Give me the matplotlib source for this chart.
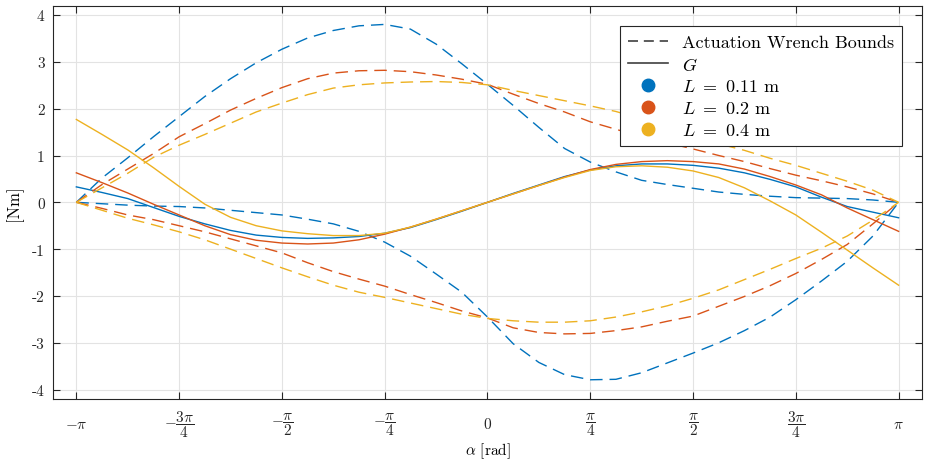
import numpy as np
import matplotlib
matplotlib.use("Agg")
import matplotlib.pyplot as plt
from matplotlib.lines import Line2D

plt.rcParams['font.family'] = 'serif'
plt.rcParams['font.serif'] = ['cmr10']
plt.rcParams['mathtext.fontset'] = 'cm'
plt.rcParams['axes.unicode_minus'] = False
plt.rcParams['axes.formatter.use_mathtext'] = False

# alpha sampled every pi/16 from -pi to pi
alpha = np.linspace(-np.pi, np.pi, 33)

# L = 0.11 m
blue_up = [0.00, 0.52, 0.95, 1.40, 1.83, 2.26, 2.64, 2.98, 3.27, 3.51, 3.67, 3.77, 3.80, 3.70, 3.38, 2.96, 2.52,
           2.07, 1.60, 1.15, 0.86, 0.65, 0.47, 0.38, 0.30, 0.22, 0.17, 0.13, 0.10, 0.09, 0.08, 0.05, 0.00]
blue_lo = [0.00, -0.03, -0.06, -0.08, -0.09, -0.12, -0.17, -0.22, -0.27, -0.36, -0.46, -0.62, -0.85, -1.15, -1.53,
           -1.92, -2.45, -3.02, -3.42, -3.68, -3.79, -3.78, -3.64, -3.43, -3.22, -3.00, -2.74, -2.45, -2.08, -1.68,
           -1.26, -0.72, 0.00]
g_blue = [0.33, 0.21, 0.08, -0.11, -0.30, -0.46, -0.60, -0.70, -0.75, -0.77, -0.76, -0.73, -0.66, -0.54, -0.37,
          -0.19, 0.00, 0.19, 0.37, 0.55, 0.69, 0.78, 0.82, 0.82, 0.79, 0.73, 0.63, 0.49, 0.33, 0.11, -0.09, -0.21, -0.33]

# L = 0.2 m
red_up = [0.00, 0.38, 0.71, 1.04, 1.40, 1.68, 1.97, 2.22, 2.45, 2.64, 2.76, 2.81, 2.82, 2.79, 2.72, 2.63, 2.52,
          2.31, 2.11, 1.93, 1.72, 1.56, 1.40, 1.27, 1.14, 1.00, 0.87, 0.72, 0.58, 0.46, 0.33, 0.18, 0.00]
red_lo = [0.00, -0.13, -0.27, -0.37, -0.50, -0.63, -0.78, -0.93, -1.08, -1.29, -1.48, -1.64, -1.79, -1.97, -2.14,
          -2.32, -2.47, -2.68, -2.78, -2.81, -2.80, -2.74, -2.66, -2.54, -2.43, -2.22, -2.01, -1.78, -1.52, -1.22,
          -0.90, -0.46, 0.00]
g_red = [0.63, 0.42, 0.20, -0.04, -0.27, -0.50, -0.69, -0.81, -0.87, -0.89, -0.87, -0.80, -0.68, -0.53, -0.36,
         -0.18, 0.00, 0.18, 0.36, 0.54, 0.70, 0.81, 0.87, 0.89, 0.87, 0.82, 0.71, 0.55, 0.37, 0.16, -0.12, -0.37, -0.62]

# L = 0.4 m
yellow_up = [0.00, 0.31, 0.62, 0.96, 1.22, 1.45, 1.69, 1.93, 2.12, 2.30, 2.44, 2.51, 2.55, 2.57, 2.58, 2.56, 2.51,
             2.39, 2.28, 2.17, 2.06, 1.94, 1.78, 1.62, 1.44, 1.25, 1.11, 0.94, 0.79, 0.62, 0.45, 0.26, 0.00]
yellow_lo = [0.00, -0.17, -0.34, -0.48, -0.63, -0.80, -1.00, -1.20, -1.40, -1.59, -1.77, -1.92, -2.03, -2.15, -2.27,
             -2.39, -2.48, -2.53, -2.56, -2.56, -2.53, -2.45, -2.34, -2.21, -2.05, -1.87, -1.65, -1.43, -1.20, -0.98,
             -0.72, -0.38, 0.00]
g_yellow = [1.77, 1.45, 1.12, 0.74, 0.34, -0.04, -0.32, -0.50, -0.61, -0.67, -0.71, -0.71, -0.66, -0.53, -0.36,
            -0.18, 0.00, 0.18, 0.36, 0.53, 0.68, 0.76, 0.78, 0.75, 0.67, 0.53, 0.31, 0.03, -0.27, -0.64, -1.02, -1.40,
            -1.77]

lengths = ['0.11', '0.2', '0.4']
colors = ['#0072BD', '#D95319', '#EDB120']

xtick_vals = np.array([-4, -3, -2, -1, 0, 1, 2, 3, 4]) * np.pi / 4
xtick_labels = [r'$-\pi$', r'$-\dfrac{3\pi}{4}$', r'$-\dfrac{\pi}{2}$', r'$-\dfrac{\pi}{4}$', r'$0$',
                r'$\dfrac{\pi}{4}$', r'$\dfrac{\pi}{2}$', r'$\dfrac{3\pi}{4}$', r'$\pi$']

dash = (0, (9, 5))

fig = plt.figure(figsize=(9.28, 4.64), dpi=100)
ax = fig.add_axes([0.0571, 0.138, 0.9364, 0.8476])

series = [(blue_up, blue_lo, g_blue), (red_up, red_lo, g_red), (yellow_up, yellow_lo, g_yellow)]
for (up, lo, g), c in zip(series, colors):
    ax.plot(alpha, up, color=c, lw=1.0, ls=dash)
    ax.plot(alpha, lo, color=c, lw=1.0, ls=dash)
    ax.plot(alpha, g, color=c, lw=1.0)

ax.set_xlim(-3.32, 3.32)
ax.set_ylim(-4.2, 4.2)
ax.set_xticks(xtick_vals)
ax.set_xticklabels(xtick_labels, fontsize=11)
ax.set_yticks(range(-4, 5))
ax.tick_params(direction='in', length=5, width=0.8, top=True, right=True, colors='#262626',
               labelsize=11, labelcolor='#262626')
ax.tick_params(axis='x', pad=18)
ax.tick_params(axis='y', pad=6)
for lab in ax.get_xticklabels():
    lab.set_verticalalignment('center')
ax.grid(True, color='#e3e3e3', lw=0.8)
ax.set_axisbelow(True)
for s in ax.spines.values():
    s.set_color('#262626')
    s.set_linewidth(0.8)

ax.set_xlabel(r'$\alpha$ [rad]', fontsize=11, labelpad=1)
ax.set_ylabel('[Nm]', fontsize=12, labelpad=6)

handles = [Line2D([], [], color='#404040', lw=1.2, ls=(0, (6, 3.5))),
           Line2D([], [], color='#404040', lw=1.2)]
labels = ['Actuation Wrench Bounds', r'$G$']
for c, l in zip(colors, lengths):
    handles.append(Line2D([], [], color=c, marker='o', ls='none', markersize=9))
    labels.append(r'$L\ =\ ' + l + r'$ m')

leg = ax.legend(handles, labels, loc='upper right', bbox_to_anchor=(0.977, 0.948), borderaxespad=0,
                fancybox=False, framealpha=1, edgecolor='#262626', fontsize=13, handlelength=2.2,
                handletextpad=0.75, labelspacing=0.32, borderpad=0.45)
leg.get_frame().set_linewidth(0.8)

fig.savefig('out.png', dpi=100)
